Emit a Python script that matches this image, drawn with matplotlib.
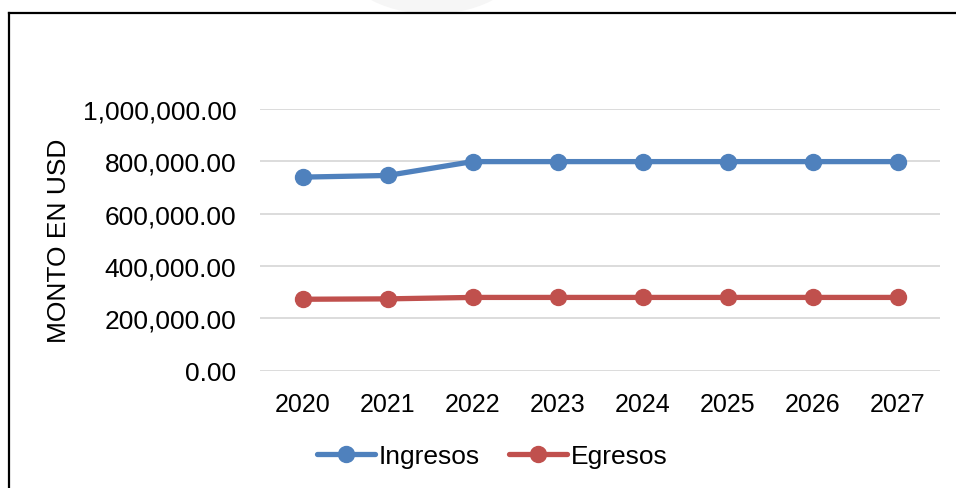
import matplotlib
matplotlib.use("Agg")
import matplotlib.pyplot as plt
from matplotlib.lines import Line2D
from matplotlib.patches import Ellipse
from matplotlib.ticker import FuncFormatter, MultipleLocator

plt.rcParams['font.family'] = ['Liberation Sans', 'DejaVu Sans']

# yearly amounts in USD
years = ['2020', '2021', '2022', '2023', '2024', '2025', '2026', '2027']
ingresos = [739700, 746000, 799000, 799000, 799000, 799000, 799000, 799000]
egresos = [273000, 274500, 280000, 280000, 280000, 280000, 280000, 280000]

blue = '#4F81BD'
red = '#C0504D'

W, H = 956, 489
fig = plt.figure(figsize=(W / 100, H / 100), dpi=100)
ax = fig.add_axes([260 / W, 1 - 371.7 / H, 680 / W, 261.7 / H])

x = range(len(years))
ax.plot(x, ingresos, color=blue, lw=3.8, marker='o', ms=11.5, label='Ingresos',
        solid_capstyle='round', zorder=3)
ax.plot(x, egresos, color=red, lw=3.8, marker='o', ms=11.5, label='Egresos',
        solid_capstyle='round', zorder=3)

ax.set_xlim(-0.5, len(years) - 0.5)
ax.set_ylim(0, 1000000)
ax.set_xticks(list(x))
ax.set_xticklabels(years)
ax.yaxis.set_major_locator(MultipleLocator(200000))
ax.yaxis.set_major_formatter(FuncFormatter(lambda v, p: f"{v:,.2f}"))
ax.grid(axis='y', color='#D9D9D9', lw=1.3, zorder=0)
ax.set_axisbelow(True)
for s in ax.spines.values():
    s.set_visible(False)
ax.tick_params(axis='y', length=0, pad=17, labelsize=19)
ax.tick_params(axis='x', length=0, pad=15, labelsize=18)

fig.text(59 / W, 1 - 241 / H, 'MONTO EN USD', rotation=90, ha='center',
         va='center', fontsize=19)

fig.legend(loc='center', bbox_to_anchor=(492 / W, 1 - 457 / H), ncol=2,
           frameon=False, fontsize=19, handlelength=2.2, handletextpad=0.15,
           columnspacing=1.1, borderpad=0)

# outer frame (top and left edges only)
fig.add_artist(Line2D([9 / W, 1], [1 - 14 / H, 1 - 14 / H], color='black',
                      lw=1.6, transform=fig.transFigure))
fig.add_artist(Line2D([9 / W, 9 / W], [0, 1 - 14 / H], color='black',
                      lw=1.6, transform=fig.transFigure))

# faint watermark edge above the frame
fig.add_artist(Ellipse((432 / W, 1 + 45 / H), 190 / W, 120 / H,
                       facecolor='#F6F6F6', edgecolor='none',
                       transform=fig.transFigure, zorder=0))

fig.savefig('out.png', dpi=100)
